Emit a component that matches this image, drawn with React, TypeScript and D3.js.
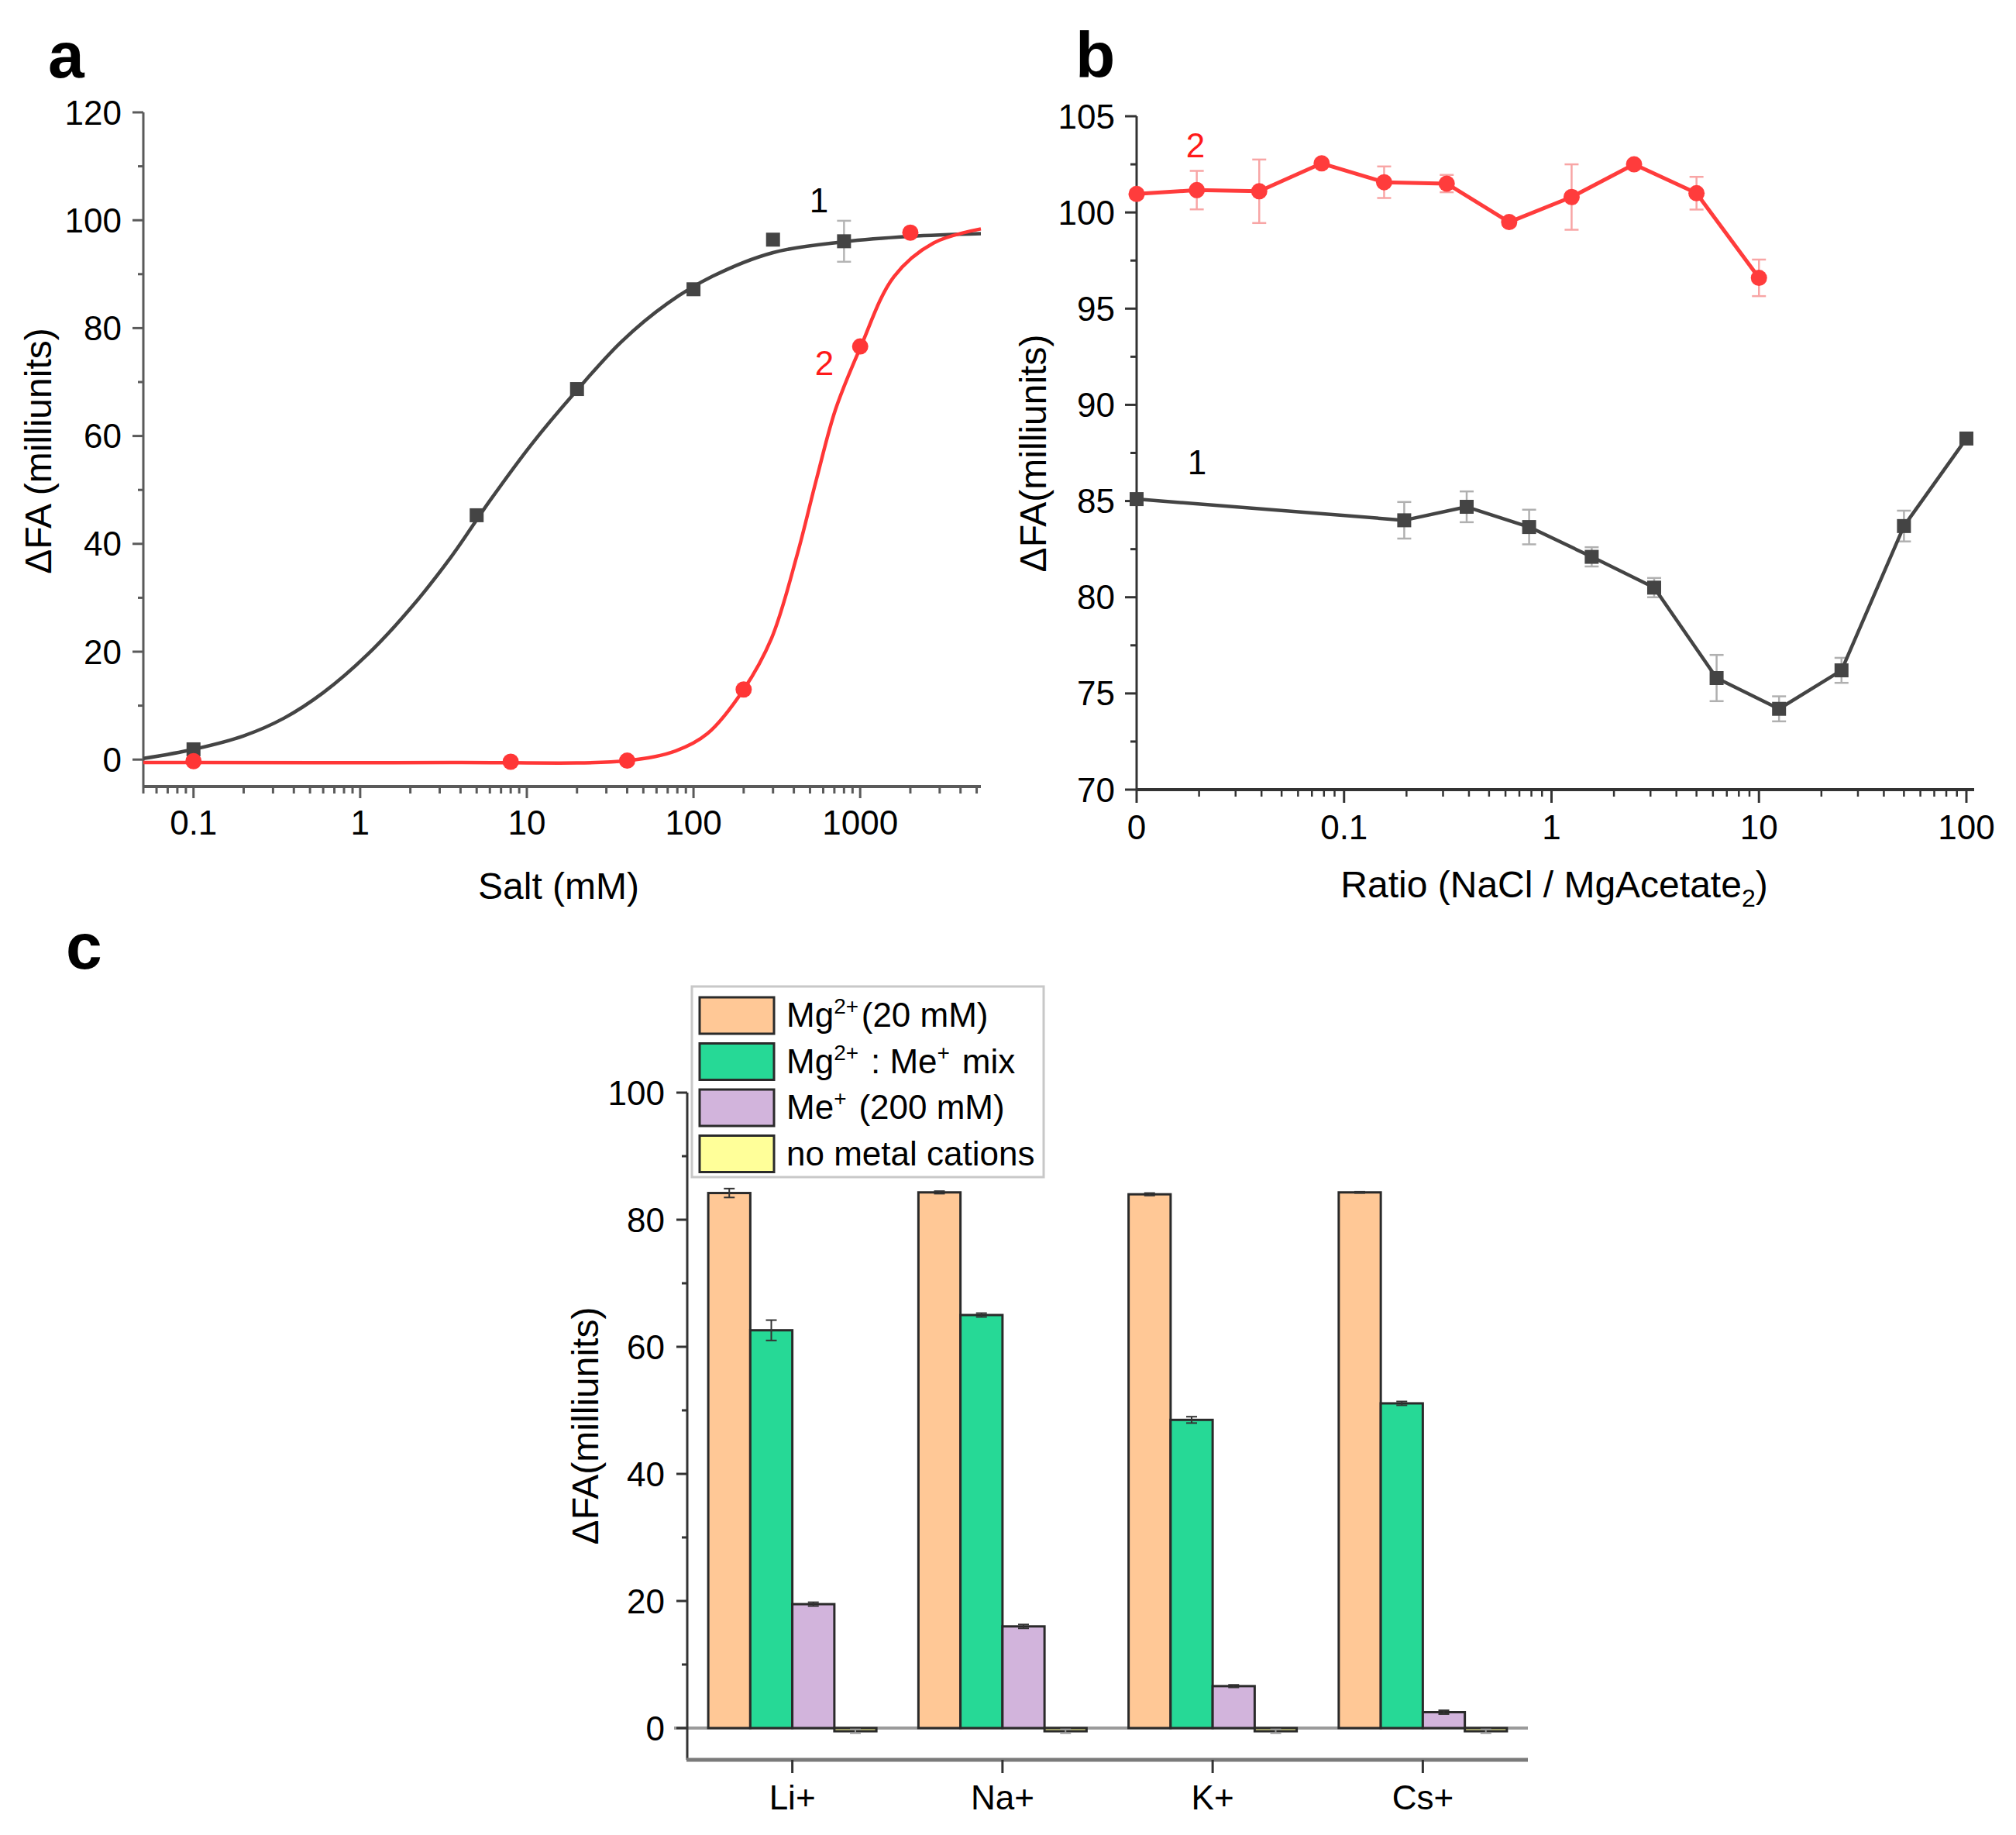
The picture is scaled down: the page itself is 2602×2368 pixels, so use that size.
import * as d3 from "d3";

const FONT = "'Liberation Sans', Arial, Helvetica, sans-serif";

// ---- panel a: salt titration ----
const saltBlackX = [0.1, 5, 20, 100, 300, 800];
const saltBlackY = [1.9, 45.3, 68.7, 87.2, 96.4, 96.1];
const saltBlackErr = [0, 0, 0, 0, 0, 3.8];
const saltRedX = [0.1, 8, 40, 200, 1000, 2000];
const saltRedY = [-0.3, -0.4, -0.2, 13, 76.6, 97.7];
// fitted curves
const fitBlackX = [0.05, 0.1, 0.2, 0.35, 0.6, 1.1, 2, 3.5, 6, 10.7, 20, 37, 70, 130, 300, 800, 2000, 5300];
const fitBlackY = [0.2, 1.9, 4.4, 7.7, 12.4, 19.4, 28, 37.5, 48, 58.5, 68.5, 77.5, 84.6, 89.6, 94, 96, 97, 97.5];
const fitRedX = [0.05, 3.5, 40, 78, 121, 200, 294, 419, 547, 713, 1000, 1590, 2760, 5300];
const fitRedY = [-0.55, -0.55, -0.2, 1.6, 4.8, 13, 22.5, 38, 52, 65, 76.3, 89.5, 95.8, 98.4];
const saltTicks = [0.1, 1, 10, 100, 1000];
const saltYTicks = [0, 20, 40, 60, 80, 100, 120];

// ---- panel b: ratio NaCl / MgAcetate2 ----
const ratioRedX = [0, 0.0195, 0.039, 0.078, 0.156, 0.3125, 0.625, 1.25, 2.5, 5, 10];
const ratioRedY = [100.96, 101.16, 101.1, 102.55, 101.57, 101.5, 99.5, 100.8, 102.5, 101.0, 96.6];
const ratioRedErr = [0.2, 1.0, 1.65, 0.2, 0.82, 0.45, 0.2, 1.7, 0.2, 0.85, 0.95];
const ratioBlackX = [0, 0.195, 0.39, 0.78, 1.5625, 3.125, 6.25, 12.5, 25, 50, 100];
const ratioBlackY = [85.1, 84.0, 84.7, 83.65, 82.1, 80.5, 75.8, 74.2, 76.2, 83.7, 88.25];
const ratioBlackErr = [0.1, 0.95, 0.8, 0.9, 0.5, 0.5, 1.2, 0.65, 0.65, 0.8, 0.3];
const ratioTicks = [0.01, 0.1, 1, 10, 100];
const ratioTickLabels = ["0", "0.1", "1", "10", "100"];
const ratioYTicks = [70, 75, 80, 85, 90, 95, 100, 105];

// ---- panel c: bars ----
const cations = ["Li+", "Na+", "K+", "Cs+"];
const seriesKeys = ["mg", "mix", "me", "none"];
const seriesColors = ["#FFC896", "#26D996", "#D2B4DC", "#FFFF99"];
const mgValues = [84.2, 84.3, 84.0, 84.3];
const mgErr = [0.7, 0.2, 0.2, 0.1];
const mixValues = [62.6, 65.0, 48.5, 51.1];
const mixErr = [1.6, 0.3, 0.5, 0.3];
const meValues = [19.5, 16.0, 6.6, 2.5];
const meErr = [0.3, 0.3, 0.2, 0.3];
const noneValues = [-0.5, -0.5, -0.5, -0.5];
const noneErr = [0.3, 0.3, 0.3, 0.3];
const barYTicks = [0, 20, 40, 60, 80, 100];

function logMinor(lo: number, hi: number) {
  const out: number[] = [];
  for (let e = -3; e <= 4; e++) {
    for (let m = 2; m < 10; m++) {
      const v = m * Math.pow(10, e);
      if (v >= lo * 0.9999 && v <= hi * 1.0001) out.push(v);
    }
  }
  return out;
}

function Sup({ children }: { children: string }) {
  return (
    <>
      <tspan dy={-17} fontSize={28}>{children}</tspan>
      <tspan dy={17}>{"\u200A"}</tspan>
    </>
  );
}

export default function App() {
  const W = 2602, H = 2368;

  // panel a scales
  const xA = d3.scaleLog().domain([0.05, 5300]).range([185, 1266]);
  const yA = d3.scaleLinear().domain([-5, 120]).range([1015, 145]);
  const lineA = d3.line<[number, number]>()
    .x(d => xA(d[0])).y(d => yA(d[1])).curve(d3.curveCatmullRom.alpha(0.5));
  const fitBlack = fitBlackX.map((x, i) => [x, fitBlackY[i]] as [number, number]);
  const fitRed = fitRedX.map((x, i) => [x, fitRedY[i]] as [number, number]);

  // panel b scales
  const xB0 = d3.scaleLog().domain([0.01, 109]).range([1467, 2548]);
  const xB = (v: number) => xB0(v === 0 ? 0.01 : v);
  const yB = d3.scaleLinear().domain([70, 105]).range([1019, 150]);
  const lineB = d3.line<[number, number]>().x(d => xB(d[0])).y(d => yB(d[1]));
  const redB = ratioRedX.map((x, i) => [x, ratioRedY[i]] as [number, number]);
  const blackB = ratioBlackX.map((x, i) => [x, ratioBlackY[i]] as [number, number]);

  // panel c scales
  const xC = d3.scaleBand().domain(cations).range([887, 1972]);
  const groupW = xC.bandwidth() * 0.8;
  const xInner = d3.scaleBand().domain(seriesKeys).range([0, groupW]);
  const yC = d3.scaleLinear().domain([-5, 100]).range([2271, 1410]);
  const barVals = [mgValues, mixValues, meValues, noneValues];
  const barErrs = [mgErr, mixErr, meErr, noneErr];

  const axA = "#5a5a5a";
  const axB = "#333";
  const tickFont = 44;
  const titleFont = 48;

  const sq = 18;
  const rC = 10.5;

  return (
    <svg width={W} height={H} viewBox={`0 0 ${W} ${H}`}
      style={{ position: "absolute", left: 0, top: 0, background: "#fff" }}
      fontFamily={FONT}>
      <rect width={W} height={H} fill="#fff" />

      {/* ================= panel a ================= */}
      <text x={62} y={100} fontSize={84} fontWeight="bold">a</text>
      {/* y axis */}
      <line x1={185} x2={185} y1={145} y2={1015} stroke={axA} strokeWidth={3} />
      {d3.range(0, 121, 10).map(v => (
        <line key={"aym" + v} x1={185} x2={v % 20 === 0 ? 171 : 178} y1={yA(v)} y2={yA(v)}
          stroke={axA} strokeWidth={3} />
      ))}
      {saltYTicks.map(v => (
        <text key={"ayl" + v} x={157} y={yA(v)} fontSize={tickFont} textAnchor="end"
          dominantBaseline="central">{v}</text>
      ))}
      {/* x axis */}
      <line x1={185} x2={1266} y1={1015} y2={1015} stroke={axA} strokeWidth={4} />
      {logMinor(0.05, 5300).map(v => (
        <line key={"axm" + v} x1={xA(v)} x2={xA(v)} y1={1015} y2={1024} stroke={axA} strokeWidth={3} />
      ))}
      {saltTicks.map(v => (
        <g key={"axt" + v}>
          <line x1={xA(v)} x2={xA(v)} y1={1015} y2={1030} stroke={axA} strokeWidth={3} />
          <text x={xA(v)} y={1077} fontSize={tickFont} textAnchor="middle">{v}</text>
        </g>
      ))}
      <text x={721} y={1160} fontSize={titleFont} textAnchor="middle">Salt (mM)</text>
      <text transform="translate(66,582) rotate(-90)" fontSize={titleFont} textAnchor="middle">ΔFA (milliunits)</text>

      {/* curves */}
      <path d={lineA(fitBlack) || ""} fill="none" stroke="#444" strokeWidth={4.5} />
      <path d={lineA(fitRed) || ""} fill="none" stroke="#FF3636" strokeWidth={4.5} />
      {saltBlackX.map((x, i) => saltBlackErr[i] > 0 && (
        <g key={"aeb" + i} stroke="#b4b4b4" strokeWidth={2.5}>
          <line x1={xA(x)} x2={xA(x)} y1={yA(saltBlackY[i] - saltBlackErr[i])} y2={yA(saltBlackY[i] + saltBlackErr[i])} />
          <line x1={xA(x) - 9} x2={xA(x) + 9} y1={yA(saltBlackY[i] - saltBlackErr[i])} y2={yA(saltBlackY[i] - saltBlackErr[i])} />
          <line x1={xA(x) - 9} x2={xA(x) + 9} y1={yA(saltBlackY[i] + saltBlackErr[i])} y2={yA(saltBlackY[i] + saltBlackErr[i])} />
        </g>
      ))}
      {saltBlackX.map((x, i) => (
        <rect key={"abs" + i} x={xA(x) - sq / 2} y={yA(saltBlackY[i]) - sq / 2} width={sq} height={sq} fill="#444" />
      ))}
      {saltRedX.map((x, i) => (
        <circle key={"arc" + i} cx={xA(x)} cy={yA(saltRedY[i])} r={rC} fill="#FF3636" />
      ))}
      <text x={1057} y={258} fontSize={tickFont} textAnchor="middle" dominantBaseline="central">1</text>
      <text x={1064} y={468} fontSize={tickFont} textAnchor="middle" dominantBaseline="central" fill="#FF1A1A">2</text>

      {/* ================= panel b ================= */}
      <text x={1388} y={100} fontSize={84} fontWeight="bold">b</text>
      <line x1={1467} x2={1467} y1={150} y2={1019} stroke={axB} strokeWidth={3} />
      {d3.range(70, 105.1, 2.5).map(v => (
        <line key={"bym" + v} x1={1467} x2={v % 5 === 0 ? 1452 : 1459} y1={yB(v)} y2={yB(v)}
          stroke={axB} strokeWidth={3} />
      ))}
      {ratioYTicks.map(v => (
        <text key={"byl" + v} x={1439} y={yB(v)} fontSize={tickFont} textAnchor="end"
          dominantBaseline="central">{v}</text>
      ))}
      <line x1={1467} x2={2548} y1={1019} y2={1019} stroke={axB} strokeWidth={4} />
      {logMinor(0.01, 100).map(v => (
        <line key={"bxm" + v} x1={xB0(v)} x2={xB0(v)} y1={1019} y2={1028} stroke={axB} strokeWidth={2.5} />
      ))}
      {ratioTicks.map((v, i) => (
        <g key={"bxt" + v}>
          <line x1={xB0(v)} x2={xB0(v)} y1={1019} y2={1036} stroke={axB} strokeWidth={3} />
          <text x={xB0(v)} y={1083} fontSize={tickFont} textAnchor="middle">{ratioTickLabels[i]}</text>
        </g>
      ))}
      <text x={2006} y={1158} fontSize={titleFont} textAnchor="middle">
        Ratio (NaCl / MgAcetate<tspan dy={12} fontSize={32}>2</tspan><tspan dy={-12}>)</tspan>
      </text>
      <text transform="translate(1350,585) rotate(-90)" fontSize={titleFont} textAnchor="middle">ΔFA(milliunits)</text>

      {/* error bars */}
      {ratioRedX.map((x, i) => {
        const lo = yB(ratioRedY[i] - ratioRedErr[i]), hi = yB(ratioRedY[i] + ratioRedErr[i]);
        return (
          <g key={"bre" + i} stroke="#F8A5A5" strokeWidth={2.5}>
            <line x1={xB(x)} x2={xB(x)} y1={lo} y2={hi} />
            <line x1={xB(x) - 9} x2={xB(x) + 9} y1={lo} y2={lo} />
            <line x1={xB(x) - 9} x2={xB(x) + 9} y1={hi} y2={hi} />
          </g>
        );
      })}
      {ratioBlackX.map((x, i) => {
        const lo = yB(ratioBlackY[i] - ratioBlackErr[i]), hi = yB(ratioBlackY[i] + ratioBlackErr[i]);
        return (
          <g key={"bbe" + i} stroke="#b0b0b0" strokeWidth={2.5}>
            <line x1={xB(x)} x2={xB(x)} y1={lo} y2={hi} />
            <line x1={xB(x) - 9} x2={xB(x) + 9} y1={lo} y2={lo} />
            <line x1={xB(x) - 9} x2={xB(x) + 9} y1={hi} y2={hi} />
          </g>
        );
      })}
      <path d={lineB(redB) || ""} fill="none" stroke="#FF3C3C" strokeWidth={5} strokeLinejoin="round" />
      <path d={lineB(blackB) || ""} fill="none" stroke="#444" strokeWidth={4.5} strokeLinejoin="round" />
      {ratioRedX.map((x, i) => (
        <circle key={"brc" + i} cx={xB(x)} cy={yB(ratioRedY[i])} r={rC} fill="#FF3C3C" />
      ))}
      {ratioBlackX.map((x, i) => (
        <rect key={"bbs" + i} x={xB(x) - sq / 2} y={yB(ratioBlackY[i]) - sq / 2} width={sq} height={sq} fill="#444" />
      ))}
      <text x={1543} y={187} fontSize={tickFont} textAnchor="middle" dominantBaseline="central" fill="#FF1A1A">2</text>
      <text x={1545} y={596} fontSize={tickFont} textAnchor="middle" dominantBaseline="central">1</text>

      {/* ================= panel c ================= */}
      <text x={85} y={1250} fontSize={84} fontWeight="bold">c</text>
      {/* zero line */}
      <line x1={870} x2={1972} y1={yC(0)} y2={yC(0)} stroke="#9a9a9a" strokeWidth={4} />
      {/* bars */}
      {cations.map((c, ci) => (
        <g key={"cg" + c}>
          {seriesKeys.map((k, si) => {
            const v = barVals[si][ci];
            const x0 = (xC(c) || 0) + xC.bandwidth() * 0.1 + (xInner(k) || 0);
            const y0 = yC(Math.max(v, 0));
            const h = Math.abs(yC(v) - yC(0));
            return (
              <rect key={k} x={x0} y={y0} width={xInner.bandwidth()} height={h}
                fill={seriesColors[si]} stroke="#2a2a2a" strokeWidth={3} />
            );
          })}
          {seriesKeys.map((k, si) => {
            const v = barVals[si][ci], e = barErrs[si][ci];
            const cx = (xC(c) || 0) + xC.bandwidth() * 0.1 + (xInner(k) || 0) + xInner.bandwidth() / 2;
            const lo = yC(v - e), hi = yC(v + e);
            return (
              <g key={"e" + k} stroke={si === 3 ? "#999" : "#333"} strokeWidth={2}>
                <line x1={cx} x2={cx} y1={lo} y2={hi} />
                <line x1={cx - 7} x2={cx + 7} y1={lo} y2={lo} />
                <line x1={cx - 7} x2={cx + 7} y1={hi} y2={hi} />
              </g>
            );
          })}
        </g>
      ))}
      {/* y axis */}
      <line x1={887} x2={887} y1={1410} y2={2271} stroke="#333" strokeWidth={3} />
      {d3.range(0, 101, 10).map(v => (
        <line key={"cym" + v} x1={887} x2={v % 20 === 0 ? 873 : 880} y1={yC(v)} y2={yC(v)}
          stroke="#333" strokeWidth={3} />
      ))}
      {barYTicks.map(v => (
        <text key={"cyl" + v} x={858} y={yC(v)} fontSize={tickFont} textAnchor="end"
          dominantBaseline="central">{v}</text>
      ))}
      {/* x axis */}
      <line x1={886} x2={1972} y1={2271} y2={2271} stroke="#7a7a7a" strokeWidth={5} />
      {cations.map(c => {
        const cx = (xC(c) || 0) + xC.bandwidth() / 2;
        return (
          <g key={"cxt" + c}>
            <line x1={cx} x2={cx} y1={2271} y2={2288} stroke="#333" strokeWidth={3} />
            <text x={cx} y={2335} fontSize={tickFont} textAnchor="middle">{c}</text>
          </g>
        );
      })}
      <text transform="translate(772,1840) rotate(-90)" fontSize={titleFont} textAnchor="middle">ΔFA(milliunits)</text>

      {/* legend */}
      <rect x={893} y={1273} width={454} height={246} fill="#fff" stroke="#c8c8c8" strokeWidth={3} />
      {seriesKeys.map((k, i) => {
        const top = 1287 + i * 59.5;
        return (
          <g key={"lg" + k}>
            <rect x={903} y={top} width={96} height={47} fill={seriesColors[i]} stroke="#2a2a2a" strokeWidth={3} />
            <text x={1015} y={top + 38} fontSize={44}>
              {i === 0 && (<>Mg<Sup>2+</Sup>(20 mM)</>)}
              {i === 1 && (<>Mg<Sup>2+</Sup> : Me<Sup>+</Sup> mix</>)}
              {i === 2 && (<>Me<Sup>+</Sup> (200 mM)</>)}
              {i === 3 && "no metal cations"}
            </text>
          </g>
        );
      })}
    </svg>
  );
}
